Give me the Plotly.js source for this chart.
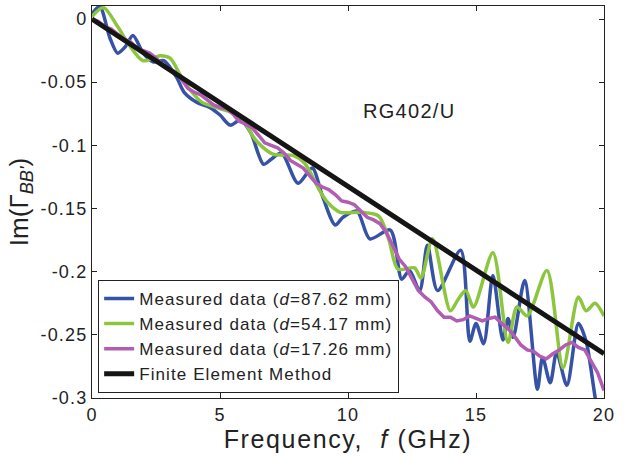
<!DOCTYPE html>
<html>
<head>
<meta charset="utf-8">
<script src="https://cdn.plot.ly/plotly-3.0.1.min.js"></script>
<style>
html,body{margin:0;padding:0;background:#fff;}
#chart{width:624px;height:457px;}
text{letter-spacing:0.065em;}
text.ytitle{letter-spacing:0;}
</style>
</head>
<body>
<div id="chart"></div>
<script>
// Measured data d=87.62 mm (blue)
const blueX = [0, 0.3, 0.7, 1.0, 1.3, 1.6, 2.0, 2.4, 2.8, 3.3, 3.6, 4.1, 4.6, 5.0, 5.4, 5.8, 6.2, 6.7, 7.0, 7.4, 8.05, 8.6, 9.0, 9.5, 9.8, 10.35, 10.85, 11.65, 12.1, 12.4, 12.8, 13.1, 13.5, 14.4, 14.76, 15.0, 15.3, 15.66, 16.05, 16.25, 16.45, 16.9, 17.4, 17.6, 17.9, 18.15, 18.55, 19.0, 19.3, 19.7, 20];
const blueY = [0.004, 0.010, -0.015, -0.027, -0.022, -0.013, -0.027, -0.034, -0.033, -0.046, -0.058, -0.066, -0.070, -0.076, -0.084, -0.080, -0.090, -0.115, -0.111, -0.106, -0.130, -0.118, -0.140, -0.163, -0.157, -0.152, -0.174, -0.167, -0.206, -0.199, -0.215, -0.179, -0.215, -0.183, -0.255, -0.241, -0.257, -0.203, -0.254, -0.237, -0.252, -0.207, -0.293, -0.268, -0.288, -0.264, -0.290, -0.241, -0.255, -0.305, -0.330];
// Measured data d=54.17 mm (green)
const greenX = [0, 0.45, 1.0, 1.5, 2.0, 2.66, 3.05, 3.44, 3.83, 4.3, 5.0, 5.78, 6.4, 7.07, 7.85, 8.3, 8.9, 9.2, 9.7, 10.5, 11.2, 11.6, 11.95, 12.6, 12.85, 13.3, 14.0, 14.3, 14.6, 14.9, 15.66, 16.25, 16.6, 17.0, 17.77, 18.4, 19.0, 19.3, 19.65, 20];
const greenY = [0.002, 0.009, -0.006, -0.022, -0.033, -0.029, -0.031, -0.044, -0.056, -0.066, -0.071, -0.077, -0.096, -0.107, -0.108, -0.114, -0.136, -0.145, -0.153, -0.153, -0.156, -0.175, -0.198, -0.197, -0.205, -0.174, -0.231, -0.222, -0.215, -0.228, -0.185, -0.256, -0.228, -0.235, -0.199, -0.276, -0.220, -0.231, -0.225, -0.235];
// Measured data d=17.26 mm (purple)
const purpleX = [0,0.25,0.5,0.75,1,1.25,1.5,1.75,2,2.25,2.5,2.75,3,3.25,3.5,3.75,4,4.25,4.5,4.75,5,5.25,5.5,5.75,6,6.25,6.5,6.75,7,7.25,7.5,7.75,8,8.25,8.5,8.75,9,9.25,9.5,9.75,10,10.25,10.5,10.75,11,11.25,11.5,11.75,12,12.25,12.5,12.75,13,13.25,13.5,13.75,14,14.25,14.5,14.75,15,15.25,15.5,15.75,16,16.25,16.5,16.75,17,17.25,17.5,17.75,18,18.25,18.5,18.75,19,19.25,19.5,19.75,20];
const purpleY = [0,-0.002,-0.006,-0.008,-0.012,-0.016,-0.018,-0.023,-0.025,-0.027,-0.031,-0.036,-0.039,-0.042,-0.048,-0.055,-0.058,-0.060,-0.064,-0.068,-0.070,-0.071,-0.075,-0.081,-0.083,-0.086,-0.092,-0.098,-0.100,-0.102,-0.106,-0.112,-0.115,-0.118,-0.124,-0.130,-0.133,-0.135,-0.139,-0.144,-0.145,-0.147,-0.152,-0.157,-0.159,-0.162,-0.169,-0.180,-0.190,-0.196,-0.206,-0.215,-0.220,-0.224,-0.231,-0.236,-0.236,-0.239,-0.238,-0.235,-0.237,-0.239,-0.237,-0.236,-0.241,-0.245,-0.251,-0.258,-0.262,-0.263,-0.267,-0.269,-0.265,-0.262,-0.258,-0.256,-0.260,-0.262,-0.271,-0.280,-0.294];
// Finite Element Method (black)
const femX = [0, 20];
const femY = [0, -0.265];

const xTickVals = [0, 5, 10, 15, 20];
const xTickText = ['0', '5', '10', '15', '20'];
const yTickVals = [0, -0.05, -0.1, -0.15, -0.2, -0.25, -0.3];
const yTickText = ['0', '-0.05', '-0.1', '-0.15', '-0.2', '-0.25', '-0.3'];

const FONT = 'Liberation Sans, Arial, Helvetica, sans-serif';

const traces = [
  {x: blueX, y: blueY, mode: 'lines', name: 'Measured data (<i>d</i>=87.62 mm)', line: {color: '#3652a6', width: 3.5, shape: 'spline', smoothing: 0.8}},
  {x: greenX, y: greenY, mode: 'lines', name: 'Measured data (<i>d</i>=54.17 mm)', line: {color: '#8cc63f', width: 3.5, shape: 'spline', smoothing: 0.8}},
  {x: purpleX, y: purpleY, mode: 'lines', name: 'Measured data (<i>d</i>=17.26 mm)', line: {color: '#b05db3', width: 3.5}},
  {x: femX, y: femY, mode: 'lines', name: 'Finite Element Method', line: {color: '#151515', width: 5}}
];

const layout = {
  width: 624, height: 457,
  margin: {l: 92, r: 20, t: 6, b: 59},
  paper_bgcolor: '#fff', plot_bgcolor: '#fff',
  font: {family: FONT, color: '#222'},
  showlegend: true,
  legend: {
    x: 0.012, y: 0.013, xanchor: 'left', yanchor: 'bottom',
    bgcolor: '#fff', bordercolor: '#222', borderwidth: 1,
    font: {family: FONT, size: 17, color: '#222'},
    tracegroupgap: 0
  },
  xaxis: {
    range: [0, 20], tickvals: xTickVals, ticktext: xTickText,
    ticks: 'inside', ticklen: 5, tickcolor: '#222', mirror: 'ticks',
    showline: true, linecolor: '#222', linewidth: 1, showgrid: false, zeroline: false,
    tickfont: {family: FONT, size: 18, color: '#222'},
    title: {text: 'Frequency,  <i>f</i> (GHz)', font: {family: FONT, size: 25, color: '#222'}, standoff: 4}
  },
  yaxis: {
    range: [-0.3, 0.0103], tickvals: yTickVals, ticktext: yTickText,
    ticks: 'inside', ticklen: 5, tickcolor: '#222', mirror: 'ticks',
    showline: true, linecolor: '#222', linewidth: 1, showgrid: false, zeroline: false,
    tickfont: {family: FONT, size: 18, color: '#222'},
    title: {text: 'Im(Γ<sub><i>BB\'</i></sub>)', font: {family: FONT, size: 26, color: '#222'}, standoff: 4}
  },
  annotations: [
    {x: 12.4, y: -0.073, xref: 'x', yref: 'y', text: 'RG402/U', showarrow: false, font: {family: FONT, size: 20, color: '#222'}}
  ]
};

Plotly.newPlot('chart', traces, layout, {displayModeBar: false, staticPlot: true});
</script>
</body>
</html>
